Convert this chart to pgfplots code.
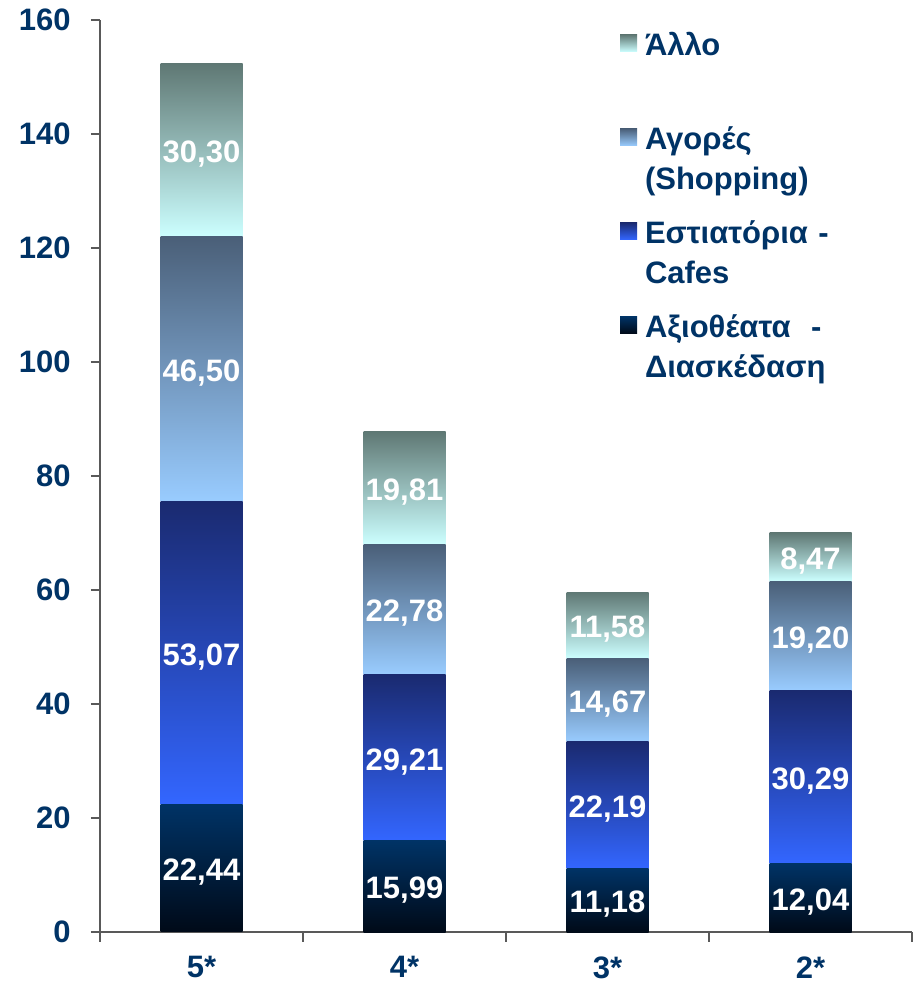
\documentclass[border=0pt]{standalone}
\usepackage{fontspec}
\setmainfont{Liberation Sans}
\usepackage{pgfplots}
\pgfplotsset{compat=1.18}
\usepackage{pgfplotstable}

\definecolor{navy}{HTML}{003366}
\definecolor{attrTop}{HTML}{003366}
\definecolor{attrBot}{HTML}{000A18}
\definecolor{restTop}{HTML}{1A2A70}
\definecolor{restBot}{HTML}{3366FF}
\definecolor{shopTop}{HTML}{4A5F78}
\definecolor{shopBot}{HTML}{99CCFF}
\definecolor{othTop}{HTML}{5F7874}
\definecolor{othBot}{HTML}{CCFFFF}

% spending per category, by hotel class
\pgfplotstableread{
x a b c d
0 22.44 53.07 46.50 30.30
1 15.99 29.21 22.78 19.81
2 11.18 22.19 14.67 11.58
3 12.04 30.29 19.20 8.47
}\spending

\newcommand{\bigfont}{\bfseries\fontsize{15.5}{20}\selectfont}

\pgfplotsset{
  base/.style={
    width=406pt, height=456pt, scale only axis,
    ybar stacked, bar width=41pt,
    xmin=-0.5, xmax=3.5, ymin=0, ymax=160,
    /pgf/number format/assume math mode=true,
    nodes near coords={\pgfmathprintnumber[use comma,fixed,fixed zerofill,precision=2]{\pgfplotspointmeta}},
    point meta=explicit,
    every node near coord/.append style={text=white, font=\bigfont, anchor=center, yshift=-2pt},
  },
}

% one segment: column, top colour, bottom colour, category index
% (each bar in its own plot so that every segment gets its own gradient)
\newcommand{\segment}[4]{%
  \addplot[draw=none, top color=#2, bottom color=#3,
      restrict expr to domain={\coordindex}{#4:#4}]
      table[x=x, y=#1, meta=#1]{\spending};}
\newcommand{\stackbar}[1]{%
  \segment{a}{attrTop}{attrBot}{#1}
  \segment{b}{restTop}{restBot}{#1}
  \segment{c}{shopTop}{shopBot}{#1}
  \segment{d}{othTop}{othBot}{#1}}

\begin{document}
\begin{tikzpicture}
\begin{axis}[
    base,
    ytick={0,20,...,160},
    xtick={0,1,2,3}, xticklabels={5*,4*,3*,2*},
    minor xtick={-0.5,0.5,1.5,2.5,3.5},
    axis x line*=bottom, axis y line*=left,
    axis line style={black!65, line width=0.8pt},
    tick align=outside,
    tick style={black!65, line width=0.6pt},
    major tick length=4.5pt, minor tick length=5pt,
    major x tick style={draw=none},
    tick label style={text=navy, font=\bigfont},
    yticklabel style={anchor=east, inner sep=0pt, xshift=-10pt},
    xticklabel style={anchor=north, inner sep=0pt, yshift=-7.5pt},
    reverse legend,
    legend style={draw=none, fill=none, at={(0.6325,0.991)}, anchor=north west,
        row sep=34pt, column sep=4pt, font=\bigfont, text=navy,
        nodes={text width=115pt, align=left, inner sep=0pt}},
    legend cell align=left,
    legend image code/.code={\fill[#1, draw=none] (0pt,-3pt) rectangle (8.5pt,5.5pt);},
]
\stackbar{0}
\addlegendentry{Αξιοθέατα\ \ -\\Διασκέδαση}
\addlegendentry{Εστιατόρια -\\Cafes}
\addlegendentry{Αγορές\\(Shopping)}
\addlegendentry{Άλλο\\\mbox{}}
\end{axis}
\begin{axis}[base, hide axis]
\stackbar{1}
\end{axis}
\begin{axis}[base, hide axis]
\stackbar{2}
\end{axis}
\begin{axis}[base, hide axis]
\stackbar{3}
\end{axis}
\path ([xshift=-50pt,yshift=-25.5pt]current axis.south west)
    rectangle ([xshift=2.5pt,yshift=10pt]current axis.north east);
\end{tikzpicture}
\end{document}
